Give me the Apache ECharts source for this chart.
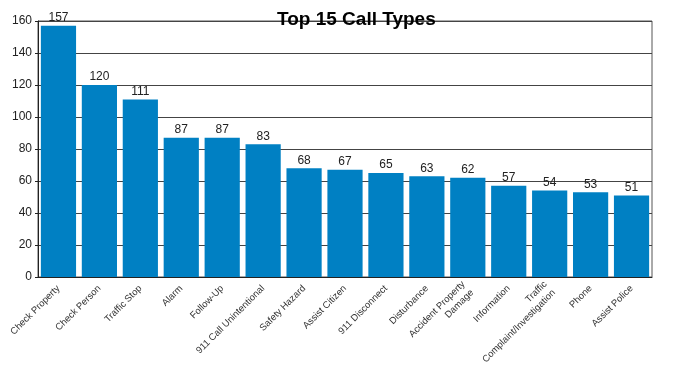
<!DOCTYPE html>
<html><head><meta charset="utf-8">
<script src="https://cdn.jsdelivr.net/npm/echarts@6/dist/echarts.min.js"></script>
<style>html,body{margin:0;padding:0;background:#fff}#c{width:676px;height:373px}</style>
</head><body><div id="c"></div>
<script>
const categories = ["Check Property","Check Person","Traffic Stop","Alarm","Follow-Up","911 Call Unintentional","Safety Hazard","Assist Citizen","911 Disconnect","Disturbance","Accident Property\nDamage","Information","Traffic\nComplaint/Investigation","Phone","Assist Police"];
const values = [157,120,111,87,87,83,68,67,65,63,62,57,54,53,51];
const chart = echarts.init(document.getElementById('c'));
chart.setOption({
  animation: false,
  title: { text: 'Top 15 Call Types', left: 272, top: 5,
    textStyle: { fontFamily: 'Liberation Sans', fontSize: 19, fontWeight: 'bold', color: '#000' } },
  grid: { left: 38, right: 24, top: 21, bottom: 96, show: true, borderColor: '#555', borderWidth: 1 },
  xAxis: { type: 'category', data: categories,
    axisLine: { lineStyle: { color: '#222' } }, axisTick: { show: false },
    axisLabel: { rotate: 45, interval: 0, fontFamily: 'Liberation Sans', fontSize: 9.5, color: '#333', margin: 10, lineHeight: 12 } },
  yAxis: { type: 'value', min: 0, max: 160, interval: 20,
    axisLine: { show: true, lineStyle: { color: '#222' } },
    axisTick: { show: true, length: 3, lineStyle: { color: '#222' } },
    splitLine: { lineStyle: { color: '#444', width: 1 } },
    axisLabel: { fontFamily: 'Liberation Sans', fontSize: 12, color: '#222', margin: 6 } },
  series: [{ type: 'bar', data: values, barCategoryGap: '14%',
    itemStyle: { color: '#0080C3' },
    label: { show: true, position: 'top', distance: 2, fontFamily: 'Liberation Sans', fontSize: 12, color: '#222' } }]
});
</script></body></html>
